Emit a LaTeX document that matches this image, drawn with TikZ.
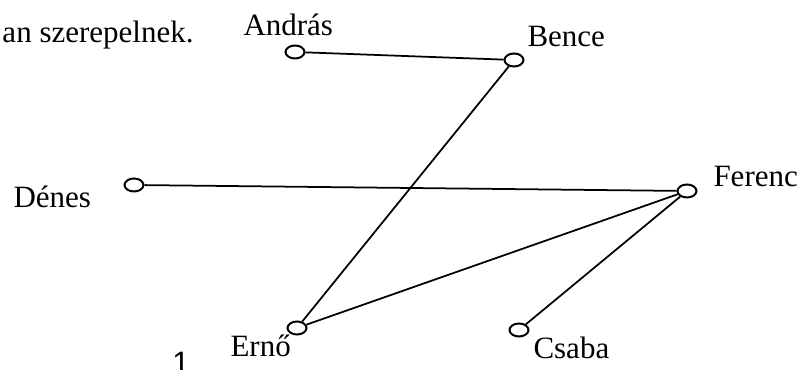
\documentclass[tikz,border=0pt]{standalone}
\usepackage{fontspec}
\setmainfont{Liberation Serif}
\setsansfont{Liberation Sans}
\usetikzlibrary{shapes.geometric}
\tikzset{
  pont/.style={ellipse, draw, line width=0.8pt, minimum width=7.6pt, minimum height=5.2pt, inner sep=0pt},
  nev/.style={anchor=base west, inner sep=0pt, font=\fontsize{12.4}{14}\selectfont},
  el/.style={line width=0.7pt}
}

\begin{document}
\begin{tikzpicture}[x=0.4pt, y=-0.4pt]
  \useasboundingbox (0,0) rectangle (806,370);

  % Text fragment
  \node[nev] (szoveg) at (2,43) {an szerepelnek.};

  % Vertices
  \node[pont] (andras) at (295,52) {};
  \node[pont] (bence) at (514,60) {};
  \node[pont] (denes) at (134,185) {};
  \node[pont] (ferenc) at (687,191) {};
  \node[pont] (erno) at (297,328) {};
  \node[pont] (csaba) at (519,330) {};

  % Names
  \node[nev] (andrasnev) at (243,36) {András};
  \node[nev] (bencenev) at (527,47) {Bence};
  \node[nev] (denesnev) at (13,208) {Dénes};
  \node[nev] (ferencnev) at (713,187) {Ferenc};
  \node[nev] (ernonev) at (230,357) {Ernő};
  \node[nev] (csabanev) at (533,359) {Csaba};

  % Edges
  \draw[el] (andras) -- (bence);
  \draw[el] (bence) -- (erno);
  \draw[el] (denes) -- (ferenc);
  \draw[el] (ferenc) -- (erno);
  \draw[el] (ferenc) -- (csaba);

  % Page number
  \node[font=\sffamily\fontsize{12.4}{14}\selectfont, anchor=north, inner sep=0pt] (oldal) at (181,352) {1};
\end{tikzpicture}
\end{document}
